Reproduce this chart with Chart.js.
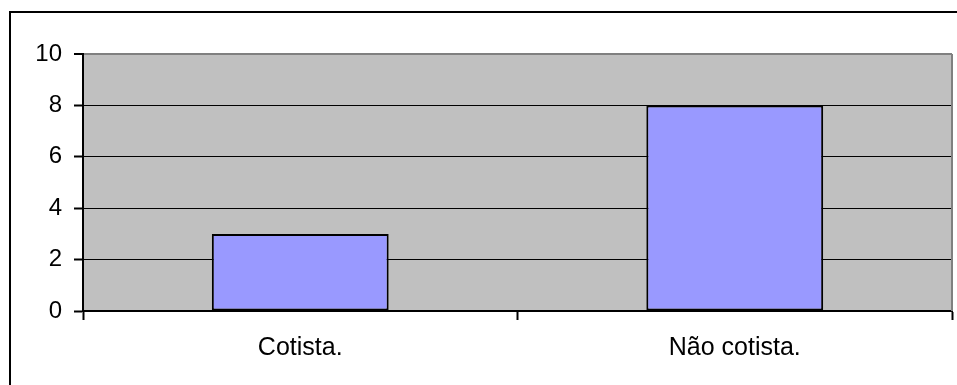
<!DOCTYPE html>
<html>
<head>
<meta charset="utf-8">
<style>
  html, body { margin: 0; padding: 0; background: #ffffff; }
  #wrap { width: 957px; height: 385px; }
</style>
<script src="https://cdn.jsdelivr.net/npm/chart.js@4/dist/chart.umd.min.js"></script>
</head>
<body>
<div id="wrap"><canvas id="cotasChart" width="957" height="385"></canvas></div>
<script>
// ----------------- Dados -----------------

const categorias = ['Cotista.', 'Não cotista.'];
const quantidades = [3, 8];
const yMin = 0;
const yMax = 10;
const yPasso = 2;

// ----------------- Cores -----------------

const palette = {
  plot: '#c0c0c0',
  bar: '#9999ff',
  line: '#000000',
  frame: '#808080'
};

// Fundo cinza da área do gráfico, moldura externa e borda direita
const plotFrame = {
  id: 'plotFrame',
  beforeDraw(chart) {
    const { ctx, chartArea } = chart;
    ctx.save();
    ctx.fillStyle = palette.plot;
    ctx.fillRect(chartArea.left, chartArea.top, chartArea.right - chartArea.left, chartArea.bottom - chartArea.top);
    ctx.restore();
  },
  afterDraw(chart) {
    const { ctx, chartArea } = chart;
    ctx.save();
    ctx.strokeStyle = palette.frame;
    ctx.lineWidth = 2;
    ctx.beginPath();
    ctx.moveTo(chartArea.right, chartArea.top);
    ctx.lineTo(chartArea.right, chartArea.bottom);
    ctx.stroke();

    ctx.strokeStyle = palette.line;
    ctx.lineWidth = 2;
    ctx.strokeRect(10, 12, 1000, 500);
    ctx.restore();
  }
};

const ctx = document.getElementById('cotasChart').getContext('2d');

new Chart(ctx, {
  type: 'bar',
  data: {
    labels: categorias,
    datasets: [{
      data: quantidades,
      backgroundColor: palette.bar,
      borderColor: palette.line,
      borderWidth: 2,
      borderSkipped: false,
      categoryPercentage: 1,
      barPercentage: 0.407
    }]
  },
  options: {
    responsive: false,
    animation: false,
    devicePixelRatio: 1,
    layout: {
      padding: { left: 0, top: 54, right: 5, bottom: 0 }
    },
    plugins: {
      legend: { display: false },
      tooltip: { enabled: false }
    },
    scales: {
      x: {
        offset: true,
        grid: {
          offset: true,
          drawOnChartArea: false,
          drawTicks: true,
          tickLength: 9,
          tickColor: palette.line,
          tickWidth: 2
        },
        border: { color: palette.line, width: 2 },
        ticks: {
          color: '#000000',
          padding: 13,
          font: { family: 'Liberation Sans, Arial, sans-serif', size: 25 }
        },
        afterFit(scale) { scale.height = 74; }
      },
      y: {
        min: yMin,
        max: yMax,
        grid: {
          color: (c) => (c.tick && c.tick.value === yMax ? palette.frame : palette.line),
          lineWidth: (c) => (c.tick && c.tick.value === yMax ? 2 : 1),
          drawTicks: true,
          tickLength: 9,
          tickColor: palette.line,
          tickWidth: 2
        },
        border: { color: palette.line, width: 2 },
        ticks: {
          stepSize: yPasso,
          color: '#000000',
          padding: 12,
          font: { family: 'Liberation Sans, Arial, sans-serif', size: 24 }
        },
        afterFit(scale) { scale.width = 83; }
      }
    }
  },
  plugins: [plotFrame]
});
</script>
</body>
</html>
